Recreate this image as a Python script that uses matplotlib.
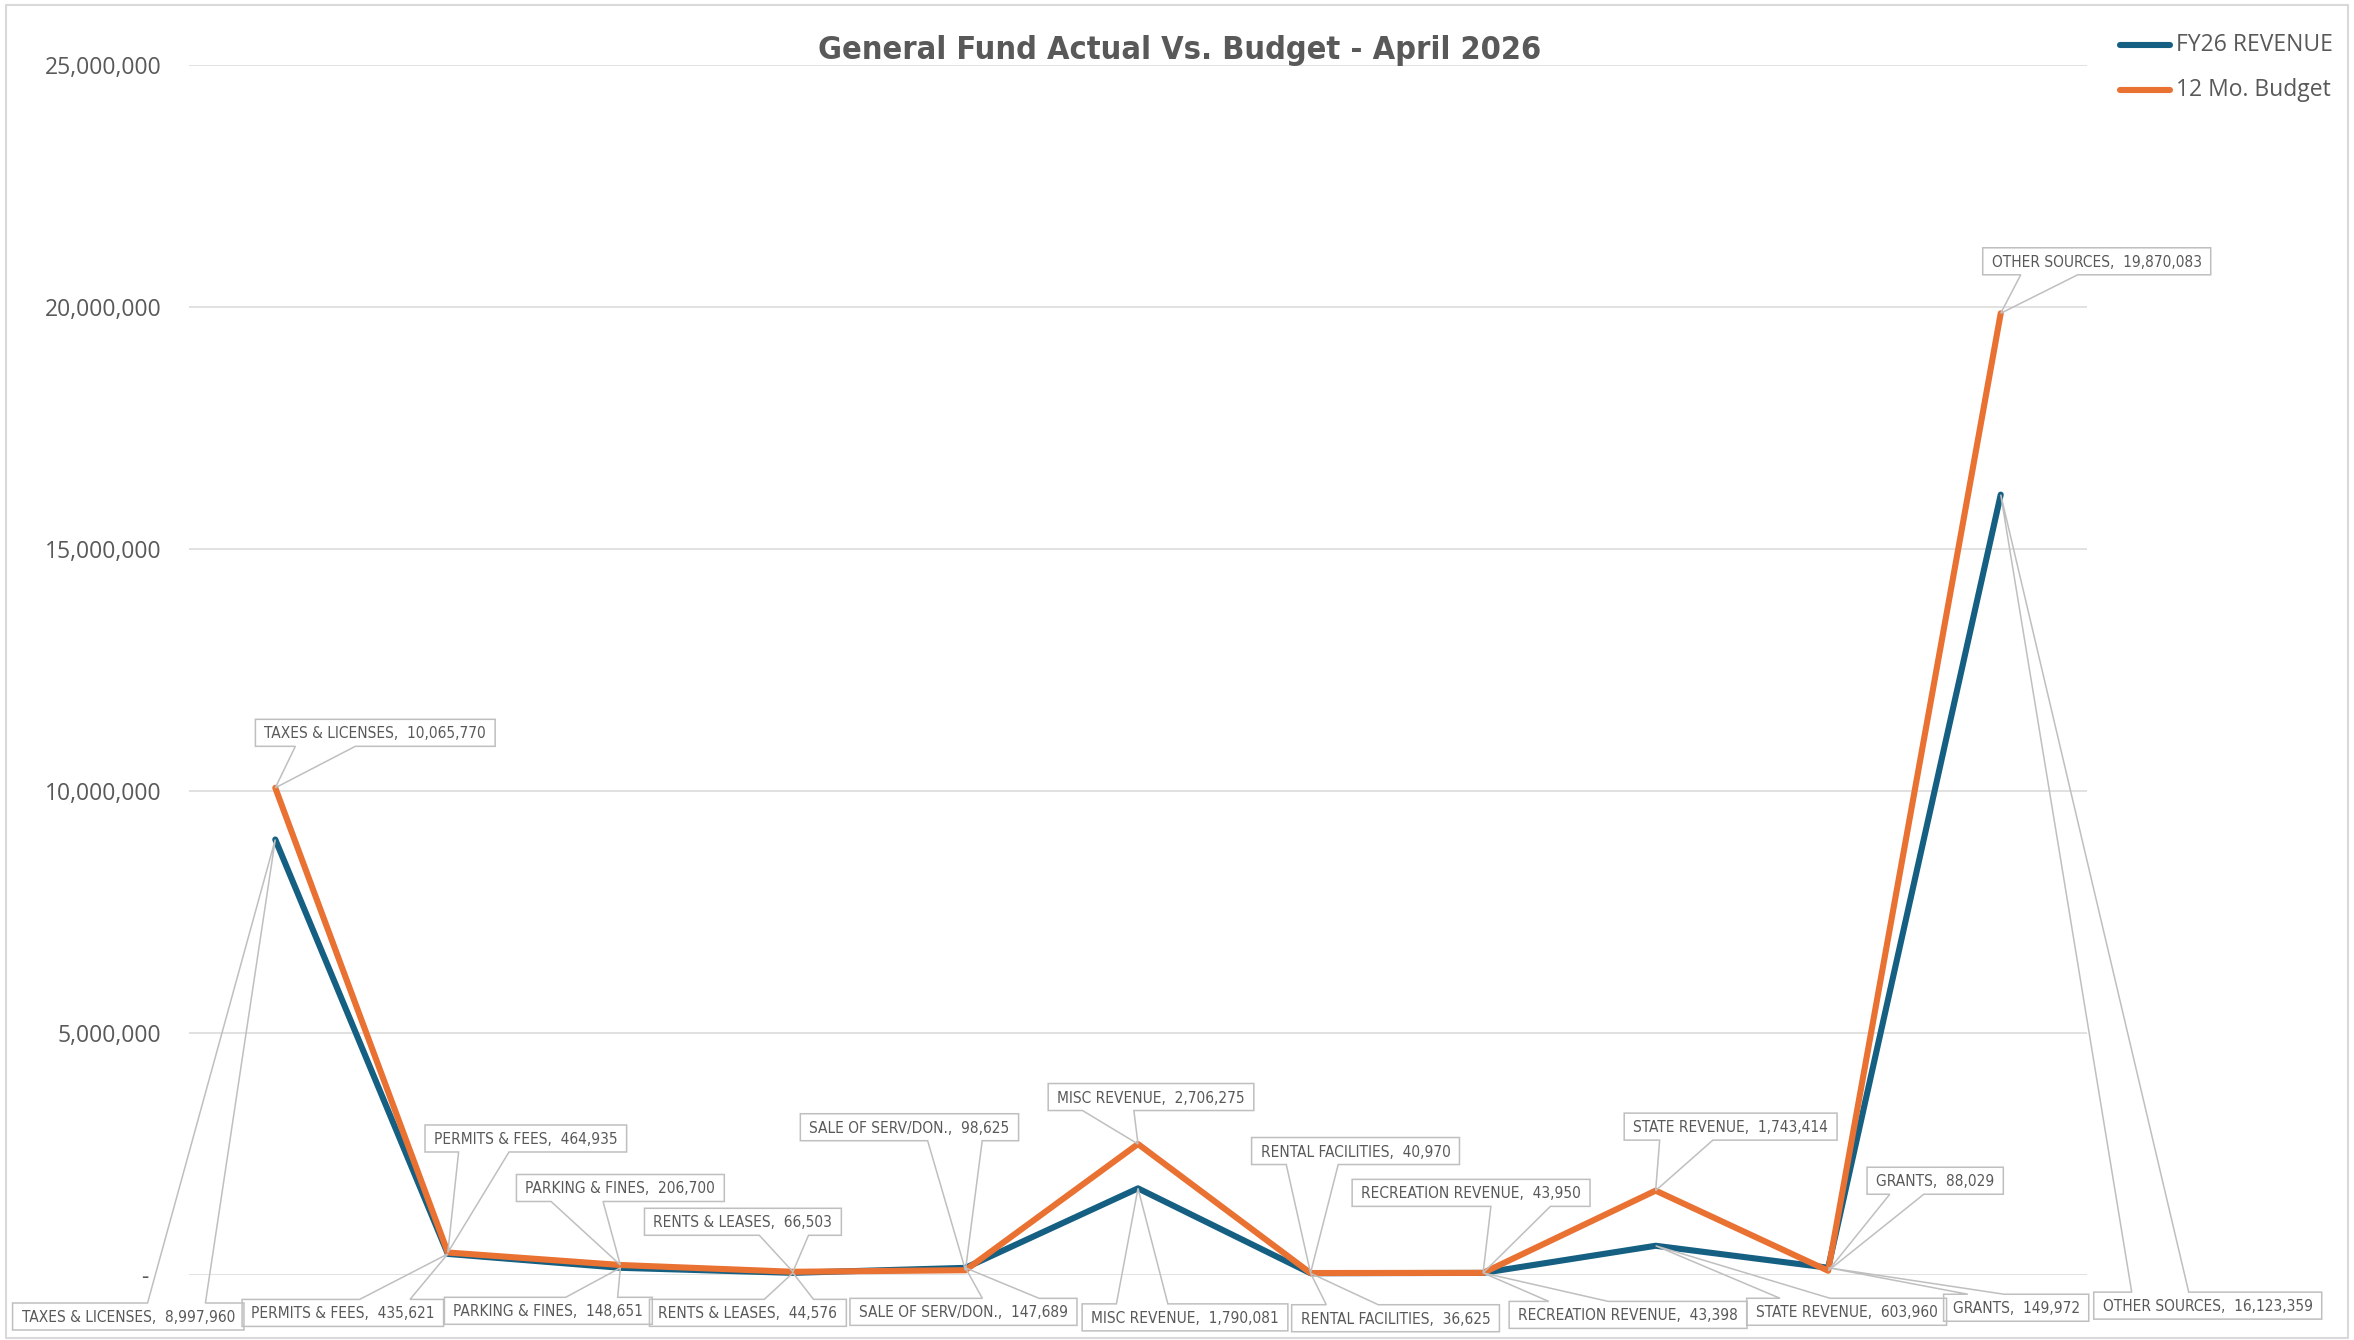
import matplotlib
matplotlib.use("Agg")
import matplotlib.pyplot as plt
from matplotlib import font_manager
from matplotlib.font_manager import FontProperties
from matplotlib.patches import Polygon, Rectangle
from matplotlib.lines import Line2D
from matplotlib.transforms import Affine2D
import numpy as np

# ---------------- data ----------------
categories = ["TAXES & LICENSES", "PERMITS & FEES", "PARKING & FINES", "RENTS & LEASES",
              "SALE OF SERV/DON.", "MISC REVENUE", "RENTAL FACILITIES", "RECREATION REVENUE",
              "STATE REVENUE", "GRANTS", "OTHER SOURCES"]
fy26_revenue = [8997960, 435621, 148651, 44576, 147689, 1790081, 36625, 43398,
                603960, 149972, 16123359]
budget_12mo = [10065770, 464935, 206700, 66503, 98625, 2706275, 40970, 43950,
               1743414, 88029, 19870083]
y_ticks = [0, 5000000, 10000000, 15000000, 20000000, 25000000]
series_names = ["FY26 REVENUE", "12 Mo. Budget"]
chart_title = "General Fund Actual Vs. Budget - April 2026"

# ---------------- layout (pixels) ----------------
# label box centre offsets from the data point (image pixels, y downwards)
budget_label_offsets = [(100, -55), (78, -114), (0, -77), (-50, -50), (-56, -143), (13, -47),
                        (45, -122), (-12, -80), (75, -64), (107, -90), (96, -52)]
fy26_label_offsets = [(-147, 477), (-105, 59), (-72, 43), (-45, 40), (-2, 44), (47, 129),
                      (85, 45), (145, 42), (191, 66), (188, 40), (207, 811)]

W, H = 2354, 1340
BLUE = "#156082"
ORANGE = "#E97132"
TXT = "#595959"
GRID = "#D9D9D9"
BOXC = "#BFBFBF"

names = {f.name for f in font_manager.fontManager.ttflist}
REG = "Open Sans" if "Open Sans" in names else "DejaVu Sans"


def _wnum(w):
    if isinstance(w, str):
        return font_manager.weight_dict.get(w.lower(), 400)
    return w


def find_narrow(target_weight):
    best, best_score = None, None
    for f in font_manager.fontManager.ttflist:
        nm = f.name.lower()
        narrow = ("narrow" in nm or "condensed" in nm or
                  str(f.stretch).lower() in ("condensed", "semi-condensed", "extra-condensed"))
        if not narrow or f.style != "normal":
            continue
        if "mono" in nm or ("serif" in nm and "sans" not in nm):
            continue
        score = abs(_wnum(f.weight) - target_weight)
        if "liberation sans narrow" in nm:
            score -= 50
        elif "roboto" in nm or "sans" in nm:
            score -= 10
        if best_score is None or score < best_score:
            best, best_score = f, score
    if best is not None:
        return FontProperties(fname=best.fname)
    fam = "Roboto" if "Roboto" in names else "Liberation Sans"
    return FontProperties(family=fam, weight=target_weight)


NARROW = find_narrow(400)
NARROW_B = find_narrow(700)

fig = plt.figure(figsize=(W / 100, H / 100), dpi=100)
fig.patch.set_facecolor("white")
ax = fig.add_axes([189 / W, 1 - 1275 / H, (2087 - 189) / W, (1275 - 65) / H])
ax.set_xlim(-0.5, len(categories) - 0.5)
ax.set_ylim(0, 25000000)

x = np.arange(len(categories))
ax.plot(x, fy26_revenue, color=BLUE, lw=4.4, solid_joinstyle="round",
        solid_capstyle="round", zorder=3, clip_on=False)
ax.plot(x, budget_12mo, color=ORANGE, lw=4.4, solid_joinstyle="round",
        solid_capstyle="round", zorder=3.1, clip_on=False)

for s in ax.spines.values():
    s.set_visible(False)
ax.set_xticks([])
ax.set_yticks(y_ticks)
ax.set_yticklabels(["-  " if v == 0 else f"{v:,}" for v in y_ticks],
                   fontsize=16.5, color=TXT, family=REG)
ax.tick_params(axis="y", length=0, pad=20)
ax.yaxis.grid(True, color=GRID, lw=1.1)
ax.set_axisbelow(True)

img_tf = Affine2D().scale(1, -1).translate(0, H)
renderer = fig.canvas.get_renderer()


def to_img(xd, yd):
    d = ax.transData.transform((xd, yd))
    return d[0], H - d[1]


def fit_size(text, fp, target_w, base=20.0):
    p = fp.copy()
    p.set_size(base)
    t = fig.text(0, 0, text, fontproperties=p)
    w = t.get_window_extent(renderer).width
    t.remove()
    return base * target_w / w


# title
tfp = NARROW_B.copy()
tfp.set_size(min(30.0, fit_size(chart_title, NARROW_B, 725)))
fig.text(1180, 51, chart_title, transform=img_tf, ha="center", va="center",
         color=TXT, fontproperties=tfp)

# legend
for i, (nm, col) in enumerate(zip(series_names, [BLUE, ORANGE])):
    yy = 45 + 45 * i
    fig.add_artist(Line2D([2120, 2170], [yy, yy], transform=img_tf, color=col, lw=4.4,
                          solid_capstyle="round"))
    fig.text(2176, yy, nm, transform=img_tf, ha="left", va="center",
             fontsize=16.5, color=TXT, family=REG)

# outer chart border
fig.add_artist(Rectangle((6, 5), 2342, 1333, transform=img_tf, fill=False,
                         edgecolor=GRID, lw=1.5))

lfp = NARROW.copy()
lfp.set_size(min(14.0, fit_size(f"{categories[0]},  {budget_12mo[0]:,}", NARROW, 222)))


def callout(cx, cy, w, h, tx, ty):
    l, t, r, b = cx - w / 2, cy - h / 2, cx + w / 2, cy + h / 2
    dx, dy = tx - cx, ty - cy
    dq = dx * h / w
    dz = abs(dy) - abs(dq)
    xg1, xg2 = (7, 10) if dx > 0 else (2, 5)
    yg1, yg2 = (7, 10) if dy > 0 else (2, 5)
    x1, x2 = l + w * xg1 / 12, l + w * xg2 / 12
    y1, y2 = t + h * yg1 / 12, t + h * yg2 / 12
    pts = [(l, t), (x1, t)]
    if dz > 0 and dy <= 0:
        pts.append((tx, ty))
    pts += [(x2, t), (r, t), (r, y1)]
    if dz <= 0 and dx > 0:
        pts.append((tx, ty))
    pts += [(r, y2), (r, b), (x2, b)]
    if dz > 0 and dy > 0:
        pts.append((tx, ty))
    pts += [(x1, b), (l, b), (l, y2)]
    if dz <= 0 and dx <= 0:
        pts.append((tx, ty))
    pts += [(l, y1)]
    return pts


def add_labels(values, offsets):
    for i, (cat, v) in enumerate(zip(categories, values)):
        px, py = to_img(i, v)
        cx, cy = px + offsets[i][0], py + offsets[i][1]
        t = fig.text(cx, cy + 1, f"{cat},  {v:,}", transform=img_tf, ha="center",
                     va="center", color=TXT, fontproperties=lfp, zorder=6)
        bb = t.get_window_extent(renderer)
        w = bb.width + 18
        h = 27
        poly = Polygon(callout(cx, cy, w, h, px, py), closed=True, transform=img_tf,
                       facecolor="none", edgecolor=BOXC, lw=1.1, zorder=5)
        fig.add_artist(poly)


add_labels(budget_12mo, budget_label_offsets)
add_labels(fy26_revenue, fy26_label_offsets)

fig.savefig("out.png", dpi=100, facecolor="white")
